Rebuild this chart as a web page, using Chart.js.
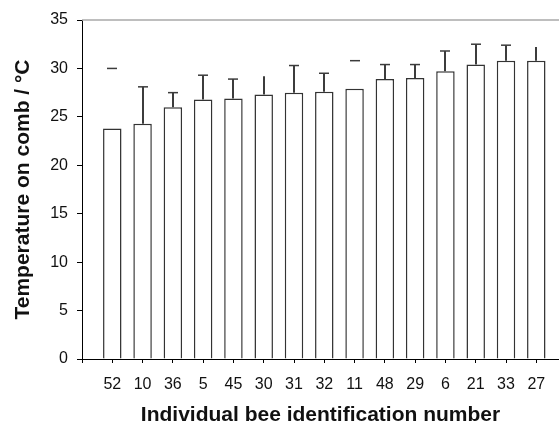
<!DOCTYPE html>
<html>
<head>
<meta charset="utf-8">
<script src="https://cdn.jsdelivr.net/npm/chart.js@4.4.1/dist/chart.umd.min.js"></script>
<style>
  html, body { margin: 0; padding: 0; background: #fff; }
  #wrap { width: 559px; height: 426px; }
</style>
</head>
<body>
<div id="wrap"><canvas id="c" width="559" height="426"></canvas></div>
<script>
// Bee IDs, in the order plotted
const categories = ['52', '10', '36', '5', '45', '30', '31', '32', '11', '48', '29', '6', '21', '33', '27'];
// Mean comb temperature per bee (°C)
const meanTemp = [23.8, 24.3, 26.0, 26.8, 26.9, 27.3, 27.5, 27.6, 27.9, 28.9, 29.0, 29.7, 30.4, 30.8, 30.8];
// Standard deviation per bee (°C), drawn as upper error bars
const sdTemp = [6.2, 3.8, 1.5, 2.5, 2.0, 1.9, 2.8, 1.9, 2.9, 1.5, 1.4, 2.1, 2.1, 1.6, 1.4];

// Bars sit at positions 1..n on a linear axis
const points = categories.map((c, i) => ({ x: i + 1, y: meanTemp[i] }));

const errorBars = {
  id: 'errorBars',
  afterDatasetsDraw(chart, args, opts) {
    const ctx = chart.ctx;
    const y = chart.scales.y;
    const meta = chart.getDatasetMeta(0);
    ctx.save();
    meta.data.forEach((bar, i) => {
      const id = categories[i];
      const top = y.getPixelForValue(meanTemp[i] + sdTemp[i]);
      const base = y.getPixelForValue(meanTemp[i]);
      const x = Math.round(bar.x);
      ctx.strokeStyle = opts.color;
      if (!opts.noStem.includes(id)) {
        ctx.lineWidth = 2;
        ctx.beginPath();
        ctx.moveTo(x, base);
        ctx.lineTo(x, top);
        ctx.stroke();
      }
      if (!opts.noCap.includes(id)) {
        ctx.lineWidth = 1.5;
        ctx.beginPath();
        ctx.moveTo(x - opts.capHalf, top);
        ctx.lineTo(x + opts.capHalf, top);
        ctx.stroke();
      }
    });
    ctx.restore();
  }
};

const topFrame = {
  id: 'topFrame',
  beforeDatasetsDraw(chart) {
    const { ctx, chartArea } = chart;
    ctx.save();
    ctx.strokeStyle = '#a8a8a8';
    ctx.lineWidth = 1.5;
    ctx.beginPath();
    ctx.moveTo(chartArea.left, chartArea.top);
    ctx.lineTo(chartArea.right, chartArea.top);
    ctx.stroke();
    ctx.restore();
  }
};

const tickFont = { family: 'Liberation Sans, Arial, sans-serif', size: 16 };
const titleFont = { family: 'Liberation Sans, Arial, sans-serif', size: 21, weight: 'bold', lineHeight: 1 };

new Chart(document.getElementById('c'), {
  type: 'bar',
  data: {
    datasets: [{
      data: points,
      backgroundColor: '#ffffff',
      borderColor: '#333333',
      borderWidth: 1.5,
      barPercentage: 0.61,
      categoryPercentage: 1
    }]
  },
  options: {
    responsive: false,
    animation: false,
    layout: { padding: { top: 20, right: 0, left: 0, bottom: 0 } },
    plugins: {
      legend: { display: false },
      tooltip: { enabled: false },
      errorBars: { color: '#3c3c3c', capHalf: 5, noStem: ['52', '11'], noCap: ['30', '27'] }
    },
    scales: {
      x: {
        type: 'linear',
        min: 0,
        max: 15.75,
        offset: false,
        grid: { display: true, drawOnChartArea: false, drawTicks: true, tickLength: 4, color: '#000', offset: false },
        border: { display: true, color: '#000', width: 1 },
        ticks: {
          stepSize: 1,
          includeBounds: false,
          autoSkip: false,
          maxRotation: 0,
          color: '#111',
          font: tickFont,
          padding: 12,
          callback: v => (Number.isInteger(v) && v >= 1 && v <= categories.length) ? categories[v - 1] : ''
        },
        title: {
          display: true,
          text: 'Individual bee identification number',
          color: '#111',
          font: titleFont,
          padding: { top: 0, bottom: 0 }
        },
        afterFit: s => { s.height = 67; }
      },
      y: {
        min: 0,
        max: 35,
        grid: { display: true, drawOnChartArea: false, drawTicks: true, tickLength: 5, color: '#000' },
        border: { display: true, color: '#000', width: 1 },
        ticks: { stepSize: 5, color: '#111', font: tickFont, padding: 9 },
        title: {
          display: true,
          text: 'Temperature on comb / °C',
          color: '#111',
          font: titleFont,
          padding: { top: 13, bottom: 0 }
        },
        afterFit: s => { s.width = 82; }
      }
    }
  },
  plugins: [topFrame, errorBars]
});
</script>
</body>
</html>
